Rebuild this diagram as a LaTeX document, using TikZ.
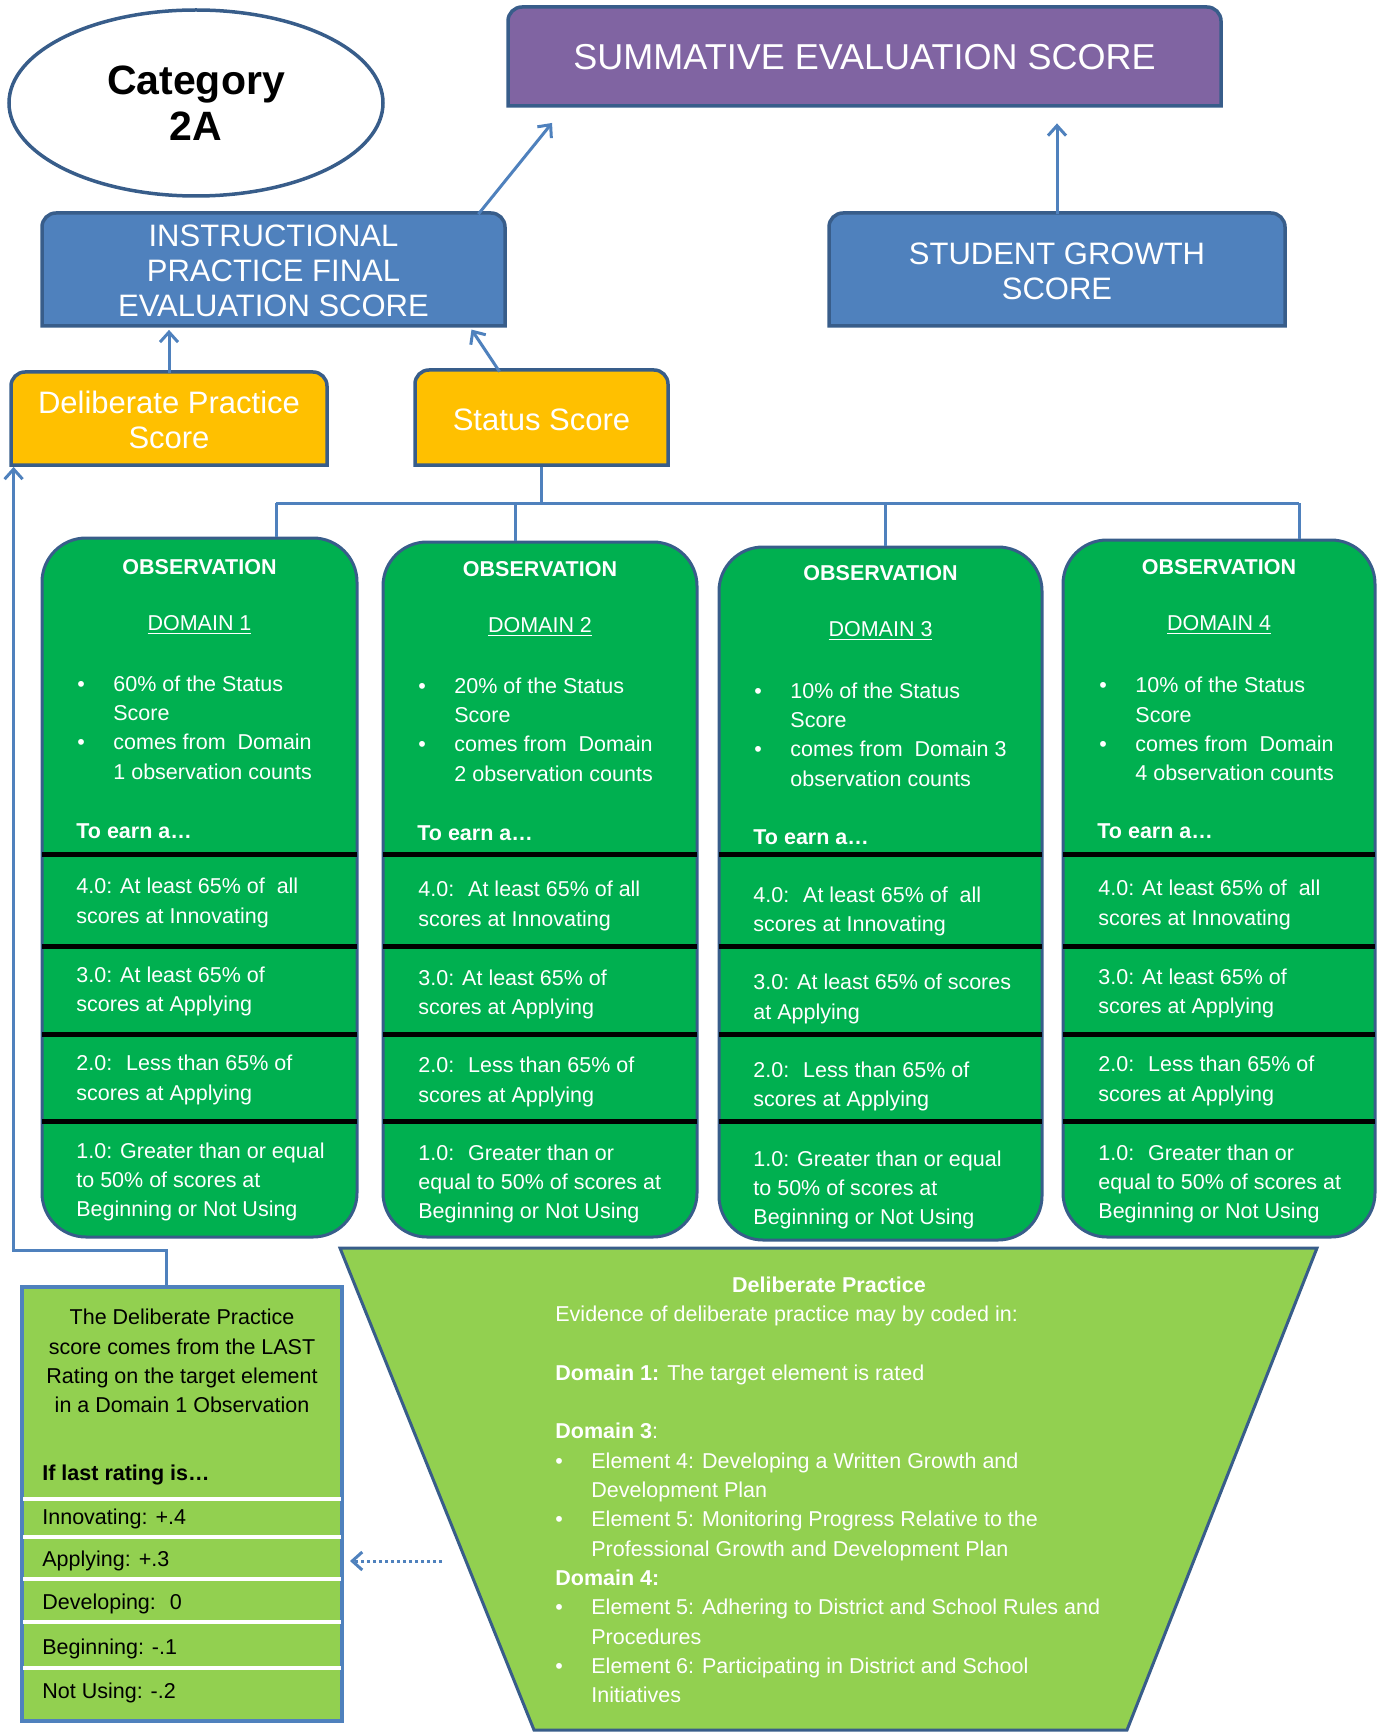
\documentclass[tikz,border=0pt]{standalone}
\usepackage{fontspec}
\setmainfont{Liberation Sans}
\usepackage{xcolor}
\usepackage{tikz}
\usetikzlibrary{positioning}
\usetikzlibrary{arrows.meta,shapes.geometric,fit,calc}

\definecolor{boxblue}{HTML}{4F81BD}
\definecolor{edgeblue}{HTML}{385D8A}
\definecolor{sumpurple}{HTML}{8064A2}
\definecolor{scoreyellow}{HTML}{FFC000}
\definecolor{obsgreen}{HTML}{00B050}
\definecolor{dpgreen}{HTML}{92D050}

\newcommand{\bodyfont}{\fontsize{10.75pt}{14.65pt}\selectfont}
\newcommand{\bul}{\makebox[18pt][l]{•}}
\newcommand{\bulgap}{\hspace*{18pt}}
% box with the two upper corners rounded
\newcommand{\capbox}[5][]{%
  \draw[#1] (#2,#5) -- (#2,#3+14) arc[start angle=180,end angle=90,radius=7pt]
    -- (#4-14,#3) arc[start angle=90,end angle=0,radius=7pt] -- (#4,#5) -- cycle;}

\tikzset{
  link/.style={draw=boxblue, line width=1.5pt},
  dotlink/.style={draw=boxblue, line width=1.5pt, dash pattern=on 1.5pt off 1.5pt},
  capline/.style={draw=edgeblue, line width=1.75pt},
  headtext/.style={inner sep=0, text=white, align=center, font=\fontsize{18pt}{21pt}\selectfont},
  boxtext/.style={inner sep=0, text=white, align=center, font=\fontsize{15.5pt}{17.5pt}\selectfont},
  obsbox/.style={inner sep=0, draw=edgeblue, fill=obsgreen, line width=1.5pt, rounded corners=22pt},
  cell/.style={inner sep=0, text=white, align=left, font=\bodyfont},
  obshead/.style={cell, font=\bodyfont\bfseries},
  rowrule/.style={draw=black, line width=2.5pt},
  wrule/.style={draw=white, line width=2pt},
  darktext/.style={inner sep=0, text=black, align=left, font=\bodyfont},
}

\begin{document}
\begin{tikzpicture}[x=0.5pt, y=-0.5pt, >={Straight Barb[length=5pt,width=9pt]}]
\useasboundingbox (0,0) rectangle (1381,1733);

% category oval
\node[ellipse, draw=edgeblue, line width=1.75pt, minimum width=187pt, minimum height=93pt,
      align=center, font=\fontsize{20.5pt}{23pt}\selectfont\bfseries] (cat) at (196,103) {Category\\2A};

% score boxes
\capbox[capline, fill=sumpurple]{508}{7}{1221}{106}
\node[headtext, minimum width=356.5pt, minimum height=49.5pt] (summ) at (864.5,57.5) {SUMMATIVE EVALUATION SCORE};

\capbox[capline, fill=boxblue]{42}{213}{505}{326}
\node[boxtext, minimum width=231.5pt, minimum height=56.5pt] (instr) at (273.5,271) {INSTRUCTIONAL\\PRACTICE FINAL\\EVALUATION SCORE};

\capbox[capline, fill=boxblue]{829}{213}{1285}{326}
\node[boxtext, minimum width=228pt, minimum height=56.5pt] (growth) at (1057,271) {STUDENT GROWTH\\SCORE};

\capbox[capline, fill=scoreyellow]{11}{372}{327}{465}
\node[boxtext, minimum width=158pt, minimum height=46.5pt] (dps) at (169,420) {Deliberate Practice\\Score};

\capbox[capline, fill=scoreyellow]{415}{370}{668}{465}
\node[boxtext, minimum width=126.5pt, minimum height=47.5pt] (status) at (541.5,419.5) {Status Score};

% arrows up
\draw[link, ->, shorten >=10pt] ([xshift=-13.5pt]instr.north east) -- ([xshift=28.5pt]summ.south west);
\draw[link, ->, shorten >=8pt] (growth.north) -- (growth.north |- summ.south);
\draw[link, ->, shorten >=1pt] (dps.north) -- (dps.north |- instr.south);
\draw[link, ->, shorten >=1pt] ([xshift=-21pt]status.north) -- ([xshift=-17.5pt]instr.south east);

% observation columns
\node[obsbox, fit={(42,538) (357,1237)}] (obs1) {};
\node[obsbox, fit={(383,542) (697,1237)}] (obs2) {};
\node[obsbox, fit={(719,547) (1042,1240)}] (obs3) {};
\node[obsbox, fit={(1063,540) (1375,1237)}] (obs4) {};

% bus from status score
\draw[link] (status.south) -- ++(0,38) coordinate (bus);
\foreach \i/\x in {1/276, 2/515, 3/885, 4/1299}
  \coordinate (bus\i) at (\x,503);
\draw[link] (bus1) -- (bus4);
\foreach \i in {1,2,3,4}
  \draw[link] (bus\i) -- (bus\i |- obs\i.north);

\foreach \i/\L/\R/\dy in {1/42/357/0, 2/383/697/2, 3/719/1042/6, 4/1063/1375/0} {
  \node[obshead] (head\i) at ({(\L+\R)/2},567+\dy) {OBSERVATION};
  \node[cell] (dom\i) at ({(\L+\R)/2},625+\dy) {\underline{DOMAIN \i}};
  \node[obshead, anchor=west] (earn\i) at (\L+34,831+\dy) {To earn a…};
  \foreach \y in {854,946,1034,1121}
    \draw[rowrule] (\L,\y) -- (\R,\y);
}

% bullets
\node[cell, anchor=west] (pct1) at (77,727.5) {\bul 60\% of the Status\\\bulgap Score\\\bul comes from \ Domain\\\bulgap 1 observation counts};
\node[cell, anchor=west] (pct2) at (418,729.5) {\bul 20\% of the Status\\\bulgap Score\\\bul comes from \ Domain\\\bulgap 2 observation counts};
\node[cell, anchor=west] (pct3) at (754,734.5) {\bul 10\% of the Status\\\bulgap Score\\\bul comes from \ Domain 3\\\bulgap observation counts};
\node[cell, anchor=west] (pct4) at (1099,729) {\bul 10\% of the Status\\\bulgap Score\\\bul comes from \ Domain\\\bulgap 4 observation counts};

% rows, domain 1
\foreach \y/\txt [count=\n] in {903/{4.0: At least 65\% of \ all\\scores at Innovating},
    991.5/{3.0: At least 65\% of\\scores at Applying},
    1080/{2.0: \ Less than 65\% of\\scores at Applying},
    1182/{1.0: Greater than or equal\\to 50\% of scores at\\Beginning or Not Using}}
  \node[cell, anchor=west] (ra\n) at (76,\y) {\txt};

% rows, domain 2
\foreach \y/\txt [count=\n] in {906/{4.0: \ At least 65\% of all\\scores at Innovating},
    994.5/{3.0: At least 65\% of\\scores at Applying},
    1082/{2.0: \ Less than 65\% of\\scores at Applying},
    1184/{1.0: \ Greater than or\\equal to 50\% of scores at\\Beginning or Not Using}}
  \node[cell, anchor=west] (rb\n) at (418,\y) {\txt};

% rows, domain 3
\foreach \y/\txt [count=\n] in {911.5/{4.0: \ At least 65\% of \ all\\scores at Innovating},
    999/{3.0: At least 65\% of scores\\at Applying},
    1086.5/{2.0: \ Less than 65\% of\\scores at Applying},
    1190/{1.0: Greater than or equal\\to 50\% of scores at\\Beginning or Not Using}}
  \node[cell, anchor=west] (rc\n) at (753,\y) {\txt};

% rows, domain 4
\foreach \y/\txt [count=\n] in {905/{4.0: At least 65\% of \ all\\scores at Innovating},
    993.5/{3.0: At least 65\% of\\scores at Applying},
    1081/{2.0: \ Less than 65\% of\\scores at Applying},
    1184/{1.0: \ Greater than or\\equal to 50\% of scores at\\Beginning or Not Using}}
  \node[cell, anchor=west] (rd\n) at (1098,\y) {\txt};

% deliberate practice funnel
\coordinate (tpa) at (340,1248);
\coordinate (tpb) at (1317,1248);
\coordinate (tpc) at (1127,1730);
\coordinate (tpd) at (534,1730);
\draw[draw=edgeblue, line width=1.5pt, fill=dpgreen] (tpa) -- (tpb) -- (tpc) -- (tpd) -- cycle;
\node[obshead] (dptitle) at (829,1285) {Deliberate Practice};
\node[cell, anchor=west] (dptext) at (555,1504.5) {Evidence of deliberate practice may by coded in:\\[14.65pt]
  \textbf{Domain 1:} The target element is rated\\[14.65pt]
  \textbf{Domain 3}:\\
  \bul Element 4: Developing a Written Growth and\\
  \bulgap Development Plan\\
  \bul Element 5: Monitoring Progress Relative to the\\
  \bulgap Professional Growth and Development Plan\\
  \textbf{Domain 4:}\\
  \bul Element 5: Adhering to District and School Rules and\\
  \bulgap Procedures\\
  \bul Element 6: Participating in District and School\\
  \bulgap Initiatives};

% deliberate practice rating list
\node[inner sep=0, draw=boxblue, line width=2pt, fill=dpgreen, fit={(22,1287) (342,1721)}] (dplist) {};
\node[darktext, align=center] (dpnote) at (182,1361) {The Deliberate Practice\\score comes from the LAST\\Rating on the target element\\in a Domain 1 Observation};
\node[darktext, font=\bodyfont\bfseries, anchor=west] (dpif) at (42,1475) {If last rating is…};
\foreach \y in {1499,1537,1579,1622,1668}
  \draw[wrule] (23,\y) -- (341,\y);
\foreach \y/\txt [count=\n] in {1519/{Innovating: +.4}, 1561/{Applying: +.3}, 1604/{Developing: \ 0},
    1649/{Beginning: -.1}, 1693/{Not Using: -.2}}
  \node[darktext, anchor=west] (rate\n) at (42,\y) {\txt};

% connectors to the list
\draw[link, ->] ([xshift=-8pt]dplist.north) -- ++(0,-35) -| ([xshift=1.5pt]dps.south west);
\coordinate (dpsrc) at (442,1561);
\draw[dotlink, ->, shorten >=3pt] (dpsrc) -- (dpsrc -| dplist.east);

\end{tikzpicture}
\end{document}
